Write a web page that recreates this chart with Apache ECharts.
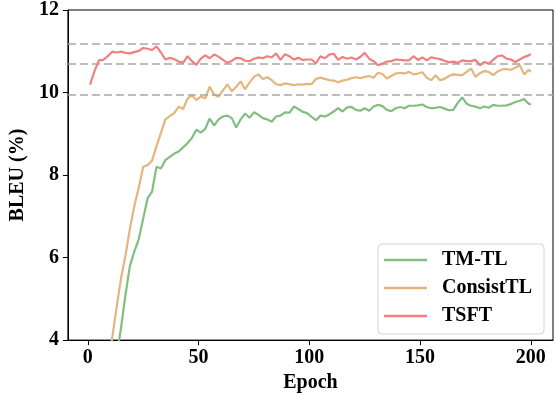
<!DOCTYPE html>
<html>
<head>
<meta charset="utf-8">
<script src="https://cdn.jsdelivr.net/npm/echarts@6/dist/echarts.min.js"></script>
<style>html,body{margin:0;padding:0;background:#fff}#c{width:556px;height:398px}</style>
</head>
<body>
<div id="c"></div>
<script>
// Epochs sampled: 1,3,5,...,199 and 200
var epochs = [];
for (var k = 0; k < 100; k++) epochs.push(1 + 2 * k);
epochs.push(200);

var seriesNames = ['TM-TL', 'ConsistTL', 'TSFT'];

var tmtl = [
 0.3, 0.9, 1.5, 2.0, 2.6, 3.1, 3.6, 4.3, 5.1, 5.8,
 6.15, 6.45, 6.95, 7.44, 7.6, 8.2, 8.16, 8.36, 8.44, 8.52,
 8.57, 8.67, 8.77, 8.9, 9.1, 9.03, 9.12, 9.37, 9.2, 9.35,
 9.42, 9.44, 9.38, 9.15, 9.35, 9.49, 9.39, 9.52, 9.46, 9.38,
 9.35, 9.29, 9.42, 9.44, 9.52, 9.51, 9.66, 9.6, 9.53, 9.5,
 9.41, 9.33, 9.44, 9.42, 9.47, 9.54, 9.62, 9.54, 9.64, 9.65,
 9.58, 9.56, 9.62, 9.56, 9.66, 9.70, 9.67, 9.58, 9.55, 9.62,
 9.65, 9.62, 9.68, 9.68, 9.69, 9.71, 9.65, 9.62, 9.63, 9.65,
 9.61, 9.57, 9.58, 9.75, 9.88, 9.73, 9.68, 9.66, 9.62, 9.66,
 9.63, 9.70, 9.68, 9.68, 9.69, 9.72, 9.77, 9.80, 9.84, 9.73,
 9.71
];

var consistTL = [
 0.5, 1.4, 2.1, 2.8, 3.4, 4.05, 4.8, 5.5, 6.05, 6.7,
 7.25, 7.7, 8.2, 8.24, 8.35, 8.7, 9.02, 9.35, 9.43, 9.5,
 9.66, 9.6, 9.85, 9.93, 9.82, 9.9, 9.86, 10.14, 9.95, 9.9,
 10.05, 10.2, 10.03, 10.14, 10.27, 10.08, 10.24, 10.38, 10.44, 10.33,
 10.37, 10.3, 10.2, 10.18, 10.22, 10.2, 10.18, 10.2, 10.19, 10.21,
 10.2, 10.33, 10.36, 10.33, 10.30, 10.29, 10.25, 10.29, 10.31, 10.35,
 10.37, 10.35, 10.38, 10.40, 10.36, 10.48, 10.45, 10.34, 10.40, 10.46,
 10.48, 10.46, 10.50, 10.44, 10.46, 10.49, 10.36, 10.30, 10.42, 10.30,
 10.33, 10.40, 10.44, 10.43, 10.42, 10.50, 10.58, 10.38, 10.47, 10.52,
 10.50, 10.42, 10.51, 10.56, 10.57, 10.55, 10.60, 10.66, 10.44, 10.55,
 10.50
];

var tsft = [
 10.19, 10.52, 10.78, 10.79, 10.88, 10.99, 10.97, 10.99, 10.96, 10.95,
 10.98, 11.01, 11.08, 11.06, 11.03, 11.12, 10.97, 10.80, 10.84, 10.81,
 10.75, 10.72, 10.88, 10.76, 10.67, 10.82, 10.90, 10.83, 10.92, 10.87,
 10.79, 10.72, 10.77, 10.84, 10.83, 10.77, 10.76, 10.82, 10.85, 10.83,
 10.88, 10.85, 10.95, 10.79, 10.93, 10.88, 10.80, 10.84, 10.79, 10.80,
 10.80, 10.71, 10.88, 10.83, 10.92, 10.94, 10.79, 10.86, 10.82, 10.85,
 10.80, 10.86, 10.96, 10.82, 10.76, 10.66, 10.70, 10.75, 10.76, 10.80,
 10.79, 10.78, 10.78, 10.88, 10.79, 10.85, 10.78, 10.85, 10.83, 10.81,
 10.77, 10.73, 10.75, 10.72, 10.78, 10.76, 10.76, 10.79, 10.66, 10.74,
 10.70, 10.79, 10.88, 10.90, 10.82, 10.80, 10.74, 10.80, 10.86, 10.90,
 10.93
];

var refLines = [11.19, 10.69, 9.94];
var xTicks = [0, 50, 100, 150, 200];
var yTicks = [4, 6, 8, 10, 12];

var colors = ['#82bd82', '#e2b67c', '#f08080'];
var font = '"Liberation Serif", "Times New Roman", serif';

function pairs(ys) { return epochs.map(function (e, i) { return [e, ys[i]]; }); }

var allSeries = [tmtl, consistTL, tsft].map(function (ys, i) {
  return {
    name: seriesNames[i], type: 'line', data: pairs(ys), showSymbol: false, symbol: 'none',
    lineStyle: { width: 2.2, color: colors[i] }, itemStyle: { color: colors[i] },
    clip: true, z: 3 + i, animation: false
  };
});
allSeries.push({
  name: 'ref', type: 'line', data: [], silent: true, animation: false,
  markLine: {
    symbol: 'none', silent: true, animation: false, label: { show: false },
    lineStyle: { type: [8, 4], color: '#a6a6a6', width: 1.6 },
    data: refLines.map(function (v) { return { yAxis: v }; })
  }
});

var chart = echarts.init(document.getElementById('c'), null, { renderer: 'canvas' });
chart.setOption({
  animation: false,
  backgroundColor: '#fff',
  grid: { left: 65, right: 3, top: 10, bottom: 52, show: true, borderColor: '#000', borderWidth: 1, backgroundColor: 'transparent' },
  xAxis: {
    type: 'value', min: -9, max: 210,
    name: 'Epoch', nameLocation: 'middle', nameGap: 23,
    nameTextStyle: { fontFamily: font, fontWeight: 'bold', fontSize: 20, color: '#000' },
    axisLine: { show: true, onZero: false, lineStyle: { color: '#000', width: 1 } },
    axisTick: { show: true, length: 5, customValues: xTicks, lineStyle: { color: '#000' } },
    axisLabel: { customValues: xTicks, margin: 8, fontFamily: font, fontWeight: 'bold', fontSize: 20, color: '#000' },
    splitLine: { show: false }
  },
  yAxis: {
    type: 'value', min: 4, max: 12, interval: 2,
    name: 'BLEU (%)', nameLocation: 'middle', nameGap: 31,
    nameTextStyle: { fontFamily: font, fontWeight: 'bold', fontSize: 20, color: '#000' },
    axisLine: { show: true, onZero: false, lineStyle: { color: '#000', width: 1 } },
    axisTick: { show: true, length: 5, lineStyle: { color: '#000' } },
    axisLabel: { margin: 9, fontFamily: font, fontWeight: 'bold', fontSize: 20, color: '#000' },
    splitLine: { show: false }
  },
  legend: {
    orient: 'vertical', left: 378, top: 244,
    data: seriesNames.map(function (n) { return { name: n, icon: 'rect' }; }),
    itemWidth: 43, itemHeight: 2.5, itemGap: 8,
    padding: [6, 12, 8, 6],
    backgroundColor: '#fff', borderColor: '#d4d4d4', borderWidth: 1, borderRadius: 4,
    textStyle: { fontFamily: font, fontWeight: 'bold', fontSize: 20, color: '#000', padding: [0, 0, 0, 10] }
  },
  series: allSeries
});
</script>
</body>
</html>
